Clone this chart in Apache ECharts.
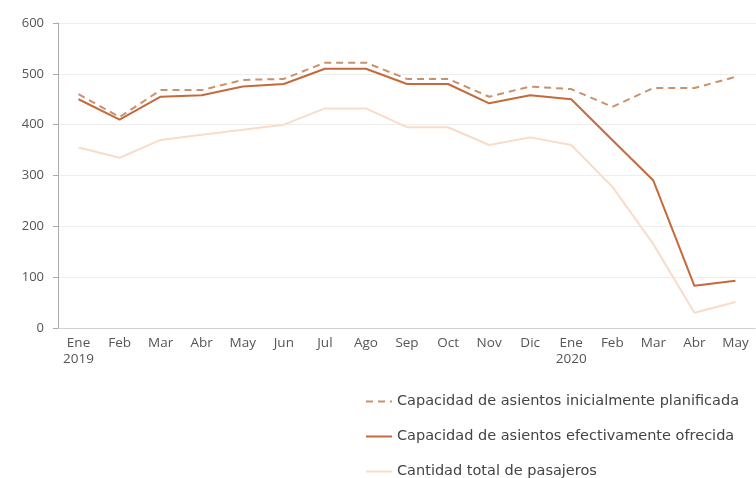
<!DOCTYPE html>
<html><head><meta charset="utf-8">
<script src="https://cdn.jsdelivr.net/npm/echarts@6/dist/echarts.min.js"></script>
<style>html,body{margin:0;padding:0;background:#fff}#c{width:756px;height:478px}</style>
</head><body><div id="c"></div>
<script>
const categories = ['Ene\n2019','Feb','Mar','Abr','May','Jun','Jul','Ago','Sep','Oct','Nov','Dic','Ene\n2020','Feb','Mar','Abr','May'];
const planned = [460,415,468,468,488,490,522,522,490,490,455,475,470,435,472,472,494];
const offered = [450,410,455,458,475,480,510,510,480,480,442,458,450,370,290,83,93];
const passengers = [355,335,370,380,390,400,432,432,395,395,360,375,360,278,165,30,51];
const yTicks = [0,100,200,300,400,500,600];
const names = ['Capacidad de asientos inicialmente planificada','Capacidad de asientos efectivamente ofrecida','Cantidad total de pasajeros'];

const chart = echarts.init(document.getElementById('c'));
chart.setOption({
  animation:false,
  grid:{left:58,right:0,top:23,bottom:150},
  legend:{
    orient:'vertical', left:360, top:389, height:90, itemGap:20, itemWidth:26, itemHeight:16,
    itemStyle:{opacity:0},
    textStyle:{fontFamily:'DejaVu Sans',fontSize:14.5,color:'#444'},
    data:names
  },
  xAxis:{
    type:'category', data:categories, boundaryGap:true,
    axisLine:{lineStyle:{color:'#ccc',type:'dotted'}},
    axisTick:{show:false},
    axisLabel:{fontFamily:'Open Sans',fontSize:13.5,color:'#555',margin:7,lineHeight:16,interval:0}
  },
  yAxis:{
    type:'value', min:yTicks[0], max:yTicks[yTicks.length-1], interval:100,
    axisLine:{show:true,lineStyle:{color:'#aaa'}},
    axisTick:{show:true,length:5,lineStyle:{color:'#aaa'}},
    axisLabel:{fontFamily:'Open Sans',fontSize:13,color:'#555',margin:14},
    splitLine:{lineStyle:{color:'#eee'}}
  },
  series:[
    {name:names[2],type:'line',data:passengers,symbol:'none',lineStyle:{color:'#f8dcc8',width:2},itemStyle:{color:'#f8dcc8'}},
    {name:names[1],type:'line',data:offered,symbol:'none',lineStyle:{color:'#c46a3c',width:2},itemStyle:{color:'#c46a3c'}},
    {name:names[0],type:'line',data:planned,symbol:'none',lineStyle:{color:'#c9916c',width:2,type:[7,5]},itemStyle:{color:'#c9916c'}}
  ]
});
</script></body></html>
